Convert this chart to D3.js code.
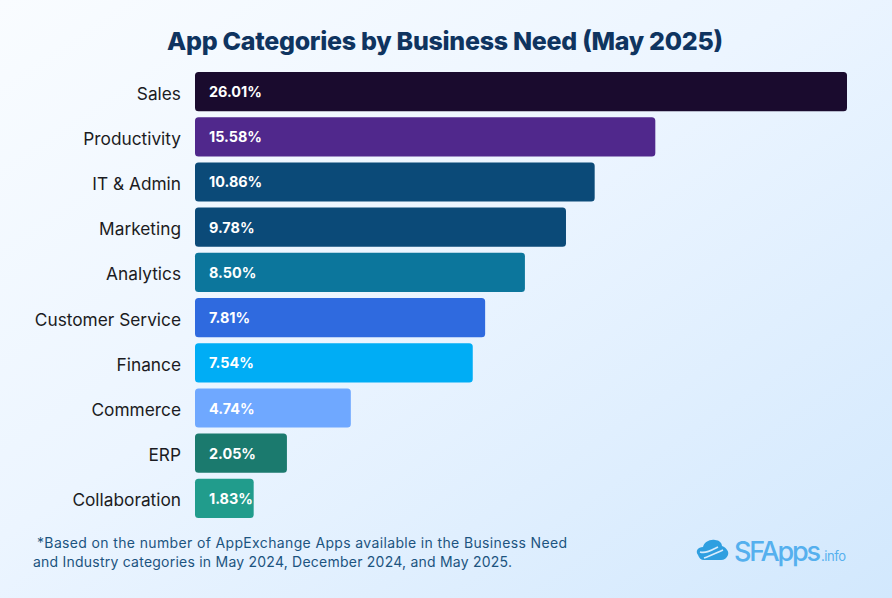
<!doctype html>
<html lang="en">
<head>
<meta charset="utf-8" />
<title>App Categories by Business Need (May 2025)</title>
<script src="https://d3js.org/d3.v7.min.js"></script>
<style type="text/css">
  html, body { height: 100%; margin: 0; padding: 0; overflow: hidden; }
  svg { display: block; font-family: Inter, "Open Sans", sans-serif; }
</style>
</head>
<body>
<div id="chart"></div>
<script>
var categories = ["Sales", "Productivity", "IT & Admin", "Marketing", "Analytics",
  "Customer Service", "Finance", "Commerce", "ERP", "Collaboration"];
// printed labels
var valueLabels = ["26.01%", "15.58%", "10.86%", "9.78%", "8.50%", "7.81%", "7.54%", "4.74%", "2.05%", "1.83%"];
// bar lengths as drawn, % of the longest bar (the picture does not draw them in proportion to the labels)
var barLengths = [100, 70.6, 61.3, 56.9, 50.6, 44.5, 42.6, 23.9, 14.1, 9.0];
var barColors = ["#1a0b2e", "#50288c", "#0b4a78", "#0b4a78", "#0c769c",
  "#2f6adf", "#00adf5", "#6fa8ff", "#1b7a6e", "#219c8c"];

var width = 892, height = 598;
var svg = d3.select("#chart").append("svg").attr("width", width).attr("height", height);

// background
var grad = svg.append("defs").append("linearGradient").attr("id", "fond")
  .attr("x1", "0%").attr("y1", "0%").attr("x2", "100%").attr("y2", "100%");
grad.append("stop").attr("offset", "0%").attr("stop-color", "#f9fcff");
grad.append("stop").attr("offset", "45%").attr("stop-color", "#ecf5ff");
grad.append("stop").attr("offset", "100%").attr("stop-color", "#d2e8fd");
svg.append("rect").attr("width", width).attr("height", height).attr("fill", "url(#fond)");

svg.append("text").attr("x", 445).attr("y", 50).attr("text-anchor", "middle")
  .attr("font-size", 25).attr("font-weight", 800).attr("fill", "#0f3460")
  .attr("textLength", 556).attr("lengthAdjust", "spacing")
  .text("App Categories by Business Need (May 2025)");

var x = d3.scaleLinear().domain([0, 100]).range([195, 847]);
var y = d3.scaleBand().domain(categories).range([72, 518]).paddingInner(0.133);

// category labels
var axe = svg.append("g").attr("transform", "translate(181,2.5)")
  .call(d3.axisLeft(y).tickSize(0).tickPadding(0));
axe.select(".domain").remove();
axe.selectAll("text").attr("font-family", "Inter, sans-serif")
  .attr("font-size", 17.3).attr("fill", "#1b1b22");

svg.selectAll("rect.barre").data(categories).enter().append("rect")
  .attr("class", "barre")
  .attr("x", x(0))
  .attr("y", function(d) { return y(d); })
  .attr("width", function(d, i) { return x(barLengths[i]) - x(0); })
  .attr("height", y.bandwidth())
  .attr("rx", 3.5)
  .attr("fill", function(d, i) { return barColors[i]; });

svg.selectAll("text.valeur").data(categories).enter().append("text")
  .attr("class", "valeur")
  .attr("x", x(0) + 14)
  .attr("y", function(d) { return y(d) + y.bandwidth() / 2 + 5.5; })
  .attr("font-size", 14.4).attr("font-weight", 700).attr("fill", "#ffffff")
  .text(function(d, i) { return valueLabels[i]; });

// note
var note = svg.append("g").attr("font-size", 14).attr("fill", "#1c5480");
note.append("text").attr("x", 37).attr("y", 547.5).attr("textLength", 530)
  .text("*Based on the number of AppExchange Apps available in the Business Need");
note.append("text").attr("x", 33).attr("y", 566.5).attr("textLength", 479)
  .text("and Industry categories in May 2024, December 2024, and May 2025.");

// logo
var logo = svg.append("g").attr("transform", "translate(696,540)");
logo.append("path").attr("fill", "#2f9fe0")
  .attr("d", "M2,15 C-1,11 2,7 7,7 C8,2 14,-1 19,0 C23,0 26,3 26,6 C31,8 33,12 32,15 C31,18 28,20 25,20 L8,20 C5,20 3,18 2,15 Z");
logo.append("path").attr("fill", "none").attr("stroke", "#d8ecfd").attr("stroke-width", 1.6)
  .attr("d", "M4,12 C10,14 16,10 22,7 M8,18 C14,16 20,13 27,10");
logo.append("text").attr("x", 38).attr("y", 21).attr("font-size", 27).attr("font-weight", 500)
  .attr("fill", "#55b0ee").attr("textLength", 87).text("SFApps");
logo.append("text").attr("x", 125).attr("y", 21).attr("font-size", 13)
  .attr("fill", "#55b0ee").attr("textLength", 25).text(".info");
</script>
</body>
</html>
